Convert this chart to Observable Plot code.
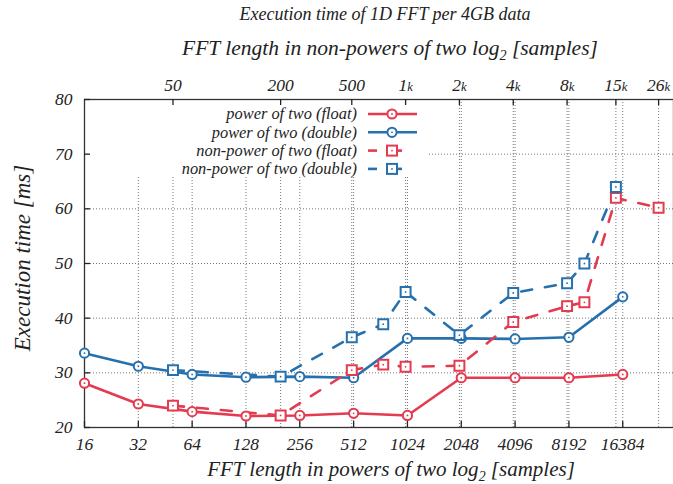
<!DOCTYPE html>
<html><head><meta charset="utf-8">
<script src="https://cdn.jsdelivr.net/npm/d3@7"></script>
<script src="https://cdn.jsdelivr.net/npm/@observablehq/plot@0.6"></script>
<style>body{margin:0;background:#fff} #chart svg{display:block}</style>
</head><body><div id="chart"></div>
<script>
// ---- data ----
const powLengths = [16, 32, 64, 128, 256, 512, 1024, 2048, 4096, 8192, 16384];
const powFloat   = [28.1, 24.3, 22.9, 22.1, 22.2, 22.6, 22.2, 29.1, 29.1, 29.1, 29.7];
const powDouble  = [33.6, 31.2, 29.7, 29.2, 29.3, 29.1, 36.3, 36.3, 36.2, 36.5, 43.9];
const npLengths  = [50, 200, 500, 750, 1000, 2000, 4000, 8000, 10000, 15000, 26000];
const npFloat    = [24.0, 22.2, 30.5, 31.5, 31.1, 31.3, 39.3, 42.2, 42.9, 62.0, 60.2];
const npDouble   = [30.5, 29.3, 36.5, 38.9, 44.8, 36.9, 44.6, 46.4, 50.0, 64.0, null];
const topTicks   = [50, 200, 500, 1000, 2000, 4000, 8000, 15000, 26000];
const topLabels  = ["50", "200", "500", "1k", "2k", "4k", "8k", "15k", "26k"];
const yTicks     = [20, 30, 40, 50, 60, 70, 80];
const seriesNames = ["power of two (float)", "power of two (double)", "non-power of two (float)", "non-power of two (double)"];
const titleText = "Execution time of 1D FFT per 4GB data";
const yLabel = "Execution time [ms]";

const RED = "#e33b4f", BLUE = "#2670ad";
const col = s => (s % 2 === 0 ? RED : BLUE);

const rows = [];
powLengths.forEach((x, i) => { rows.push({s: 0, x, y: powFloat[i]}); rows.push({s: 1, x, y: powDouble[i]}); });
npLengths.forEach((x, i) => {
  if (npFloat[i] != null) rows.push({s: 2, x, y: npFloat[i]});
  if (npDouble[i] != null) rows.push({s: 3, x, y: npDouble[i]});
});
const solid = rows.filter(d => d.s < 2), dashed = rows.filter(d => d.s >= 2);

const W = 673, H = 484, mT = 99, mB = 57, mL = 84, mR = 0;
const pH = H - mT - mB, pW = W - mL - mR;
const gridStyle = {stroke: "#777", strokeOpacity: 1, strokeDasharray: "1,2", strokeWidth: 1};

const plot = Plot.plot({
  width: W, height: H, marginTop: mT, marginBottom: mB, marginLeft: mL, marginRight: mR,
  style: {fontFamily: "'Liberation Serif', serif", fontStyle: "italic", fontSize: "17.5px", color: "#222", background: "#fff"},
  x: {type: "log", base: 2, domain: [16, 31500]},
  y: {domain: [20, 80]},
  marks: [
    Plot.gridX({ticks: powLengths.slice(1), ...gridStyle}),
    Plot.gridX({ticks: topTicks, ...gridStyle}),
    Plot.gridY({ticks: yTicks.slice(1, -1), ...gridStyle}),
    Plot.frame({stroke: "#333", strokeWidth: 1.3}),
    Plot.tickX(powLengths, {x: d => d, insetTop: pH - 6, stroke: "#222", strokeWidth: 1.3}),
    Plot.tickX(topTicks, {x: d => d, insetBottom: pH - 6, stroke: "#222", strokeWidth: 1.3}),
    Plot.tickY(yTicks, {y: d => d, insetRight: pW - 6, stroke: "#222", strokeWidth: 1.3}),
    Plot.axisX({anchor: "bottom", ticks: powLengths, tickSize: 0, tickPadding: 10, label: null, tickFormat: d => String(d)}),
    Plot.axisX({anchor: "top", ticks: topTicks, tickSize: 0, tickPadding: 9, label: null, tickFormat: d => topLabels[topTicks.indexOf(d)]}),
    Plot.axisY({ticks: yTicks, tickSize: 0, tickPadding: 12, label: null}),
    Plot.line(solid, {x: "x", y: "y", z: "s", stroke: d => col(d.s), strokeWidth: 2.6}),
    Plot.line(dashed, {x: "x", y: "y", z: "s", stroke: d => col(d.s), strokeWidth: 2.6, strokeDasharray: "11,13"}),
    Plot.dot(solid, {x: "x", y: "y", r: 4.6, symbol: "circle", fill: "white", stroke: d => col(d.s), strokeWidth: 2}),
    Plot.dot(dashed, {x: "x", y: "y", r: 5.6, symbol: "square", fill: "white", stroke: d => col(d.s), strokeWidth: 2}),
    Plot.dot(rows, {x: "x", y: "y", r: 0.9, fill: d => col(d.s)})
  ]
});
document.getElementById("chart").appendChild(plot);

const svg = d3.select(plot);
const font = "'Liberation Serif', serif";

// smaller "k" suffix on the top tick labels
svg.selectAll("text").each(function () {
  const s = this.textContent;
  if (/^\d+k$/.test(s)) {
    const el = d3.select(this);
    el.text(s.slice(0, -1));
    el.append("tspan").attr("font-size", "0.72em").text("k");
  }
});

// legend box over the grid
const grids = plot.querySelectorAll('[aria-label$="grid"]');
const lg = document.createElementNS("http://www.w3.org/2000/svg", "g");
if (grids.length) grids[grids.length - 1].after(lg); else plot.appendChild(lg);
d3.select(lg).append("rect").attr("x", mL + 1).attr("y", mT + 1).attr("width", 426 - mL).attr("height", 175 - mT).attr("fill", "#fff");

const leg = svg.append("g").attr("font-family", font).attr("font-style", "italic").attr("font-size", 16.4);
seriesNames.forEach((name, i) => {
  const cy = 114 + i * 18.3;
  leg.append("text").attr("x", 357).attr("y", cy).attr("dy", "0.33em").attr("text-anchor", "end").attr("fill", "#222").text(name);
  const c = col(i);
  if (i < 2) {
    leg.append("line").attr("x1", 368).attr("x2", 417).attr("y1", cy).attr("y2", cy).attr("stroke", c).attr("stroke-width", 2.6);
    leg.append("circle").attr("cx", 392).attr("cy", cy).attr("r", 4.6).attr("fill", "#fff").attr("stroke", c).attr("stroke-width", 2);
  } else {
    leg.append("line").attr("x1", 368).attr("x2", 377).attr("y1", cy).attr("y2", cy).attr("stroke", c).attr("stroke-width", 2.6);
    leg.append("line").attr("x1", 387).attr("x2", 402).attr("y1", cy).attr("y2", cy).attr("stroke", c).attr("stroke-width", 2.6);
    leg.append("rect").attr("x", 392 - 5).attr("y", cy - 5).attr("width", 10).attr("height", 10).attr("fill", "#fff").attr("stroke", c).attr("stroke-width", 2);
  }
  leg.append("circle").attr("cx", 392).attr("cy", cy).attr("r", 0.9).attr("fill", c);
});

// titles
const t = svg.append("g").attr("font-family", font).attr("font-style", "italic").attr("fill", "#222");
t.append("text").attr("x", 385).attr("y", 20).attr("text-anchor", "middle").attr("font-size", 18).text(titleText);
function axisTitle(prefix, x, y, fs) {
  const el = t.append("text").attr("x", x).attr("y", y).attr("text-anchor", "middle").attr("font-size", fs);
  el.append("tspan").text(prefix + " log");
  el.append("tspan").attr("dy", 5).attr("font-size", fs * 0.66).text("2");
  el.append("tspan").attr("dy", -5).text(" [samples]");
}
axisTitle("FFT length in non-powers of two", 390, 55, 21.5);
axisTitle("FFT length in powers of two", 391, 476, 21);
t.append("text").attr("transform", "translate(30,258) rotate(-90)").attr("text-anchor", "middle").attr("font-size", 23).text(yLabel);
</script>
</body></html>
